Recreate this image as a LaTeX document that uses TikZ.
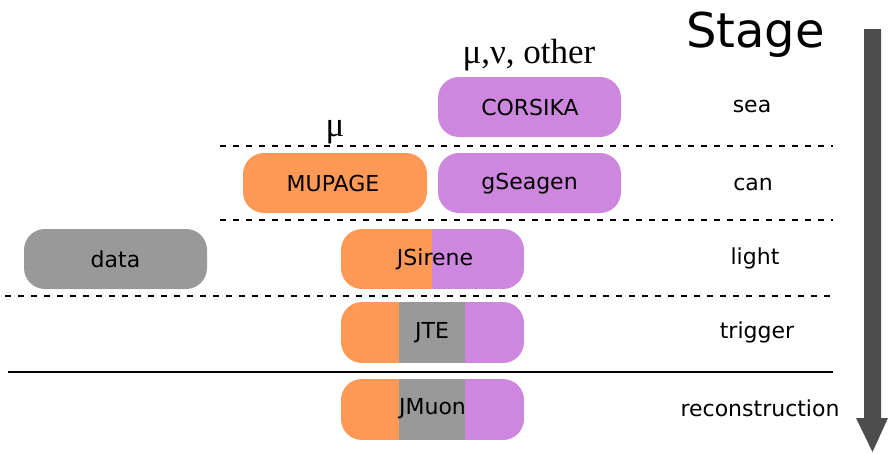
\documentclass[tikz,border=0pt]{standalone}
\usepackage{fontspec}
\setmainfont{DejaVu Sans}
\newfontfamily\greekserif{Liberation Serif}
\definecolor{orng}{HTML}{FF9955}
\definecolor{viol}{HTML}{CD87DE}
\definecolor{gry}{HTML}{999999}
\definecolor{arrowgray}{HTML}{4D4D4D}
\begin{document}
\begin{tikzpicture}[x=1pt,y=-1pt,
  lbl/.style={inner sep=0pt,font=\fontsize{22}{26}\selectfont},
  pillfill/.style={rounded corners=21pt},
  sep/.style={line width=2.3pt,dash pattern=on 6pt off 7pt},
  greek/.style={inner sep=0pt,font=\greekserif\fontsize{35}{40}\selectfont}]
\useasboundingbox (0,0) rectangle (888,453);
% stage arrow
\fill[arrowgray] (864,29) -- (881,29) -- (881,418) -- (888,418) -- (872.5,452) -- (856,418) -- (864,418) -- cycle;
\node[inner sep=0pt,anchor=base,font=\fontsize{48}{52}\selectfont] (stage) at (755.5,47) {Stage};
% separators
\coordinate (d1a) at (220,146); \coordinate (d1b) at (833,146);
\coordinate (d2a) at (220,220); \coordinate (d2b) at (833,220);
\coordinate (d3a) at (5,296);   \coordinate (d3b) at (830,296);
\coordinate (s1a) at (8,372);   \coordinate (s1b) at (833,372);
\draw[sep] (d1a) -- (d1b);
\draw[sep] (d2a) -- (d2b);
\draw[sep] (d3a) -- (d3b);
\draw[line width=2.5pt] (s1a) -- (s1b);
% single pills
\fill[viol,pillfill] (438,77) rectangle (621,137);
\node[lbl] (corsika) at (530,107) {CORSIKA};
\fill[orng,pillfill] (243,153) rectangle (427,213);
\node[lbl] (mupage) at (333,183) {MUPAGE};
\fill[viol,pillfill] (438,153) rectangle (621,213);
\node[lbl] (gseagen) at (529.5,184) {gSeagen};
\fill[gry,pillfill] (24,229) rectangle (207,289);
\node[lbl] (data) at (115.5,259) {data};
% JSirene
\begin{scope}
\clip[pillfill] (341,229) rectangle (524,289);
\fill[orng] (341,229) rectangle (432,289);
\fill[viol] (432,229) rectangle (524,289);
\end{scope}
\node[lbl] (jsirene) at (435,259) {JSirene};
% JTE
\begin{scope}
\clip[pillfill] (341,302) rectangle (524,363);
\fill[orng] (341,302) rectangle (399,363);
\fill[gry] (399,302) rectangle (465,363);
\fill[viol] (465,302) rectangle (524,363);
\end{scope}
\node[lbl] (jte) at (432,333) {JTE};
% JMuon
\begin{scope}
\clip[pillfill] (341,379) rectangle (524,440);
\fill[orng] (341,379) rectangle (399,440);
\fill[gry] (399,379) rectangle (465,440);
\fill[viol] (465,379) rectangle (524,440);
\end{scope}
\node[lbl] (jmuon) at (432.5,409) {JMuon};
% stage labels
\node[lbl] (sea) at (752,106) {sea};
\node[lbl] (can) at (753,184) {can};
\node[lbl] (light) at (755,258) {light};
\node[lbl] (trigger) at (757,332) {trigger};
\node[lbl] (reco) at (760,408) {reconstruction};
% particle labels
\node[greek,anchor=base] (numu) at (529,63) {μ,ν, other};
\node[greek,anchor=base] (mu) at (335,136) {μ};
\end{tikzpicture}
\end{document}
